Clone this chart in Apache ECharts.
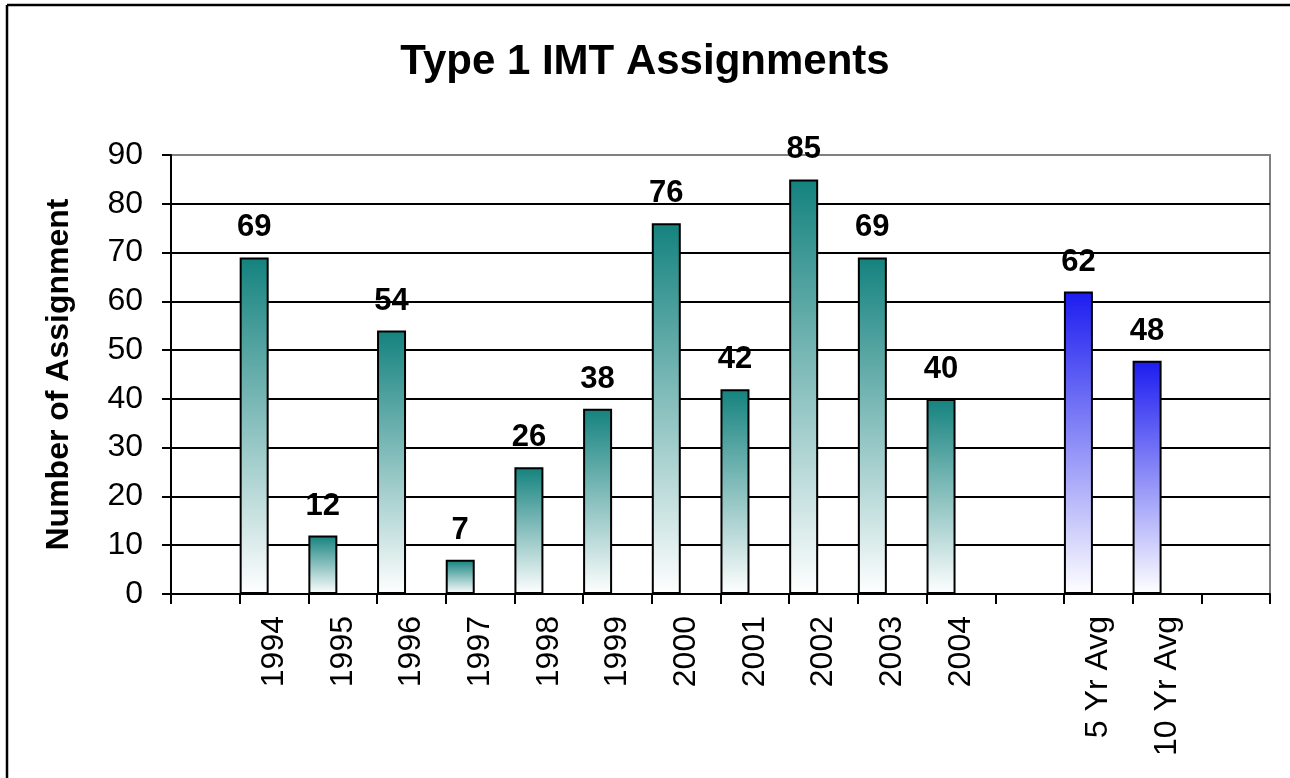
<!DOCTYPE html>
<html>
<head>
<meta charset="utf-8">
<title>Type 1 IMT Assignments</title>
<script src="https://cdn.jsdelivr.net/npm/echarts@6/dist/echarts.min.js"></script>
<style>
  html, body { margin: 0; padding: 0; background: #fff; }
  #chart { width: 1290px; height: 778px; }
</style>
</head>
<body>
<div id="chart"></div>
<script>
// blank slots on both ends and between the years and the averages
const categories = ['', '1994', '1995', '1996', '1997', '1998', '1999', '2000', '2001', '2002', '2003', '2004', ' ', '5 Yr Avg', '10 Yr Avg', '  ']
const assignments = [null, 69, 12, 54, 7, 26, 38, 76, 42, 85, 69, 40, null, 62, 47.8, null]
const isAverage = [false, false, false, false, false, false, false, false, false, false, false, false, false, true, true, false]
const yTicks = { min: 0, max: 90, interval: 10 }

const FONT = '"Liberation Sans", Arial, Helvetica, sans-serif'
const TEAL = '#14827e'
const BLUE = '#1c1cf0'

function fade(top) {
  return new echarts.graphic.LinearGradient(0, 0, 0, 1, [
    { offset: 0, color: top },
    { offset: 1, color: '#ffffff' },
  ])
}

const chart = echarts.init(document.getElementById('chart'))

chart.setOption({
  animation: false,
  backgroundColor: '#fff',
  title: {
    text: 'Type 1 IMT Assignments',
    left: 'center',
    top: 36,
    textStyle: { fontFamily: FONT, fontSize: 42, fontWeight: 'bold', color: '#000' },
  },
  // chart-area frame, only its top and left edges fall inside the picture
  graphic: [
    {
      type: 'line',
      shape: { x1: 7, y1: 5, x2: 1290, y2: 5 },
      style: { stroke: '#000', lineWidth: 2.5 },
      silent: true,
    },
    {
      type: 'line',
      shape: { x1: 7, y1: 5, x2: 7, y2: 778 },
      style: { stroke: '#000', lineWidth: 2.5 },
      silent: true,
    },
  ],
  grid: {
    left: 171,
    right: 20,
    top: 155,
    bottom: 184,
    show: true,
    borderColor: '#808080',
    borderWidth: 2,
    backgroundColor: 'transparent',
  },
  xAxis: {
    type: 'category',
    data: categories,
    axisLine: { lineStyle: { color: '#000', width: 2 } },
    axisTick: { show: true, length: 10, lineStyle: { color: '#000', width: 2 } },
    axisLabel: {
      interval: 0,
      rotate: 90,
      margin: 22,
      color: '#000',
      fontFamily: FONT,
      fontSize: 32,
    },
    splitLine: { show: false },
  },
  yAxis: {
    type: 'value',
    min: yTicks.min,
    max: yTicks.max,
    interval: yTicks.interval,
    name: 'Number of Assignment',
    nameLocation: 'middle',
    nameGap: 96,
    nameTextStyle: { fontFamily: FONT, fontSize: 32, fontWeight: 'bold', color: '#000' },
    axisLine: { show: true, lineStyle: { color: '#000', width: 2 } },
    axisTick: { show: true, length: 9, lineStyle: { color: '#000', width: 2 } },
    axisLabel: { margin: 28, color: '#000', fontFamily: FONT, fontSize: 32 },
    splitLine: { show: true, showMaxLine: false, lineStyle: { color: '#000', width: 2 } },
  },
  series: [
    {
      name: 'Assignments',
      type: 'bar',
      barWidth: 29,
      barGap: '37%',
      data: assignments.map((v, i) => ({
        value: v,
        itemStyle: {
          color: fade(isAverage[i] ? BLUE : TEAL),
          borderColor: '#000',
          borderWidth: 2,
        },
      })),
      label: {
        show: true,
        position: 'top',
        distance: 14,
        color: '#000',
        fontFamily: FONT,
        fontSize: 31,
        fontWeight: 'bold',
        formatter: (p) => (p.value == null ? '' : Math.round(p.value)),
      },
    },
    {
      // empty second slot, keeps each bar on the left half of its category
      name: 'spacer',
      type: 'bar',
      barWidth: 29,
      data: categories.map(() => null),
    },
  ],
})

window.addEventListener('resize', () => chart.resize())
</script>
</body>
</html>
